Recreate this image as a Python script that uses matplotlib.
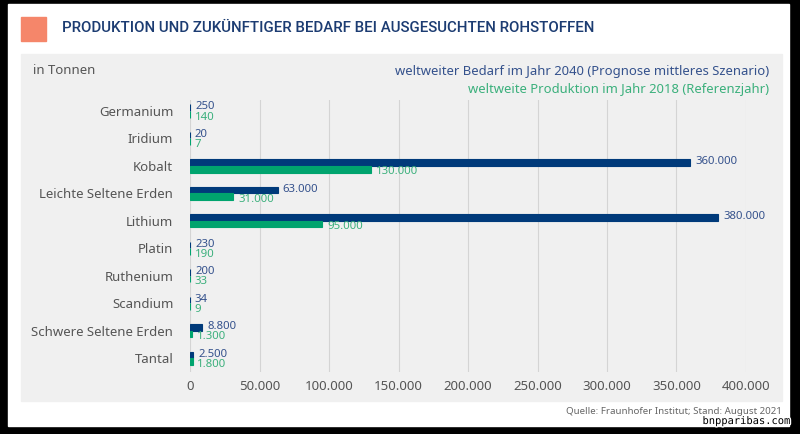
import matplotlib
matplotlib.use("Agg")
import matplotlib.pyplot as plt
import matplotlib.patches as mpatches
import matplotlib.patheffects as pe

plt.rcParams['font.family'] = ['Noto Sans', 'DejaVu Sans']

# Daten (in Tonnen)
rohstoffe = ['Germanium', 'Iridium', 'Kobalt', 'Leichte Seltene Erden', 'Lithium',
             'Platin', 'Ruthenium', 'Scandium', 'Schwere Seltene Erden', 'Tantal']
bedarf_2040 = [250, 20, 360000, 63000, 380000, 230, 200, 34, 8800, 2500]
produktion_2018 = [140, 7, 130000, 31000, 95000, 190, 33, 9, 1300, 1800]
x_ticks = [0, 50000, 100000, 150000, 200000, 250000, 300000, 350000, 400000]

NAVY = '#003a7a'
GREEN = '#00a46e'
NAVY_TXT = '#34518c'
GREEN_TXT = '#3bb07c'
GREY_TXT = '#555555'

W, H = 800, 434


def fx(px):
    return px / W


def fy(py):
    return 1 - py / H


def fmt(v):
    return f"{v:,}".replace(",", ".")


fig = plt.figure(figsize=(W / 100, H / 100), dpi=100)
fig.patch.set_facecolor('black')

# weisse Karte, graues Feld, oranges Quadrat (hinter den Achsen)
fig.patches.append(mpatches.Rectangle((fx(8), fy(426)), fx(789 - 8), (426 - 4) / H,
                                      transform=fig.transFigure, color='white', zorder=-3))
fig.patches.append(mpatches.Rectangle((fx(21), fy(401)), fx(782 - 21), (401 - 54) / H,
                                      transform=fig.transFigure, color='#f0f0f0', zorder=-2))
fig.patches.append(mpatches.Rectangle((fx(21), fy(41)), fx(25), 24 / H,
                                      transform=fig.transFigure, color='#f5866a', zorder=-2))

fig.text(fx(62), fy(28), 'PRODUKTION UND ZUKÜNFTIGER BEDARF BEI AUSGESUCHTEN ROHSTOFFEN',
         color='#1c3c72', fontsize=10.8, fontweight='medium', family=['Roboto', 'DejaVu Sans'],
         va='center', ha='left')
fig.text(fx(33), fy(71), 'in Tonnen', color=GREY_TXT, fontsize=9.5, va='center')
fig.text(fx(769), fy(71), 'weltweiter Bedarf im Jahr 2040 (Prognose mittleres Szenario)',
         color=NAVY_TXT, fontsize=9.4, va='center', ha='right')
fig.text(fx(769), fy(89), 'weltweite Produktion im Jahr 2018 (Referenzjahr)',
         color=GREEN_TXT, fontsize=9.4, va='center', ha='right')
fig.text(fx(782), fy(412), 'Quelle: Fraunhofer Institut; Stand: August 2021',
         color='#666666', fontsize=7.0, va='center', ha='right')
fig.text(fx(790), fy(421), 'bnpparibas.com', color='black', fontsize=7.5, family='DejaVu Sans Mono',
         va='center', ha='right', zorder=5,
         path_effects=[pe.withStroke(linewidth=2, foreground='white')])

ax = fig.add_axes([fx(190), fy(372), fx(746 - 190), (372 - 100) / H])
ax.set_facecolor('none')

pos = list(range(len(rohstoffe)))
h = 0.24
ax.barh([p - h / 2 for p in pos], bedarf_2040, height=h, color=NAVY,
        edgecolor=NAVY, linewidth=0.8, zorder=3)
ax.barh([p + h / 2 for p in pos], produktion_2018, height=h, color=GREEN,
        edgecolor=GREEN, linewidth=0.8, zorder=3)

for p, b, pr in zip(pos, bedarf_2040, produktion_2018):
    ax.annotate(fmt(b), (b, p - 0.15), xytext=(3.5, 0), textcoords='offset points',
                color=NAVY_TXT, fontsize=8.2, va='center', ha='left', annotation_clip=False)
    ax.annotate(fmt(pr), (pr, p + 0.22), xytext=(3.5, 0), textcoords='offset points',
                color=GREEN_TXT, fontsize=8.2, va='center', ha='left', annotation_clip=False)

ax.set_xlim(0, 400000)
ax.set_ylim(9.5, -0.4)
ax.set_yticks(pos)
ax.set_yticklabels(rohstoffe)
ax.set_xticks(x_ticks)
ax.set_xticklabels([fmt(t) for t in x_ticks])
ax.tick_params(axis='both', length=0, colors=GREY_TXT, labelsize=9.5)
ax.tick_params(axis='y', pad=12)
ax.tick_params(axis='x', pad=6)
ax.grid(axis='x', color='#d4d4d4', linewidth=0.8, zorder=0)
ax.set_axisbelow(True)
for s in ax.spines.values():
    s.set_visible(False)

fig.savefig('out.png', dpi=100, facecolor=fig.get_facecolor())
